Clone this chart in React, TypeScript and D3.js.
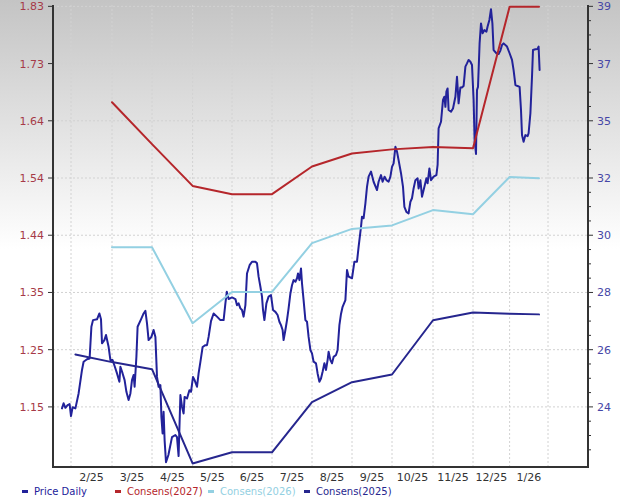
import React from 'react';
import * as d3 from 'd3';

// ---------- data ----------
// x unit: trading-session index from the left edge of the plot
const monthGrid = [9, 29.5, 49.5, 69.8, 89.5, 109.5, 129.5, 149.5, 169.5, 190, 210, 228.3, 247.5];
const monthLabels = ['2/25', '3/25', '4/25', '5/25', '6/25', '7/25', '8/25', '9/25', '10/25', '11/25', '12/25', '1/26'];

const leftTickLabels = ['1.15', '1.25', '1.35', '1.44', '1.54', '1.64', '1.73', '1.83'];
const rightTickLabels = ['24', '26', '28', '30', '32', '35', '37', '39'];
const leftTickFirst = 1.15;
const leftTickStep = 0.0971;

const price: [number, number][] = [
  [4.5, 23.91], [5.3, 24.1], [6.2, 23.93], [7.3, 24.03], [8.3, 24.07], [9, 23.62], [9.8, 23.95], [11.2, 23.91],
  [12.8, 24.47], [14.5, 25.35], [15.3, 25.66], [17, 25.75], [18.3, 25.78], [19.2, 26.97], [20, 27.22], [22, 27.25],
  [23.2, 27.47], [24, 27.25], [24.5, 26.35], [25.7, 26.47], [26.5, 26.66], [27.8, 26.22], [28.7, 25.72], [29.8, 25.72],
  [30.8, 25.5], [32, 25.22], [33.2, 24.91], [33.7, 25.47], [34.8, 25.22], [35.8, 24.97], [36.7, 24.53], [37.8, 24.22],
  [38.7, 24.47], [39.5, 24.97], [40.3, 25.16], [40.8, 24.72], [41.7, 25.84], [42.3, 26.97], [44, 27.25], [45.3, 27.47],
  [46.2, 27.57], [47, 27.1], [47.8, 26.47], [49.2, 26.59], [50.3, 26.85], [51.2, 26.59], [52, 25.09], [52.8, 24.72],
  [53.7, 24.78], [54.2, 23.59], [54.8, 22.97], [55.3, 23.78], [55.8, 22.72], [56.5, 21.89], [57.7, 22.16], [59.5, 22.83],
  [61.2, 22.91], [62, 22.83], [62.8, 22.12], [63.7, 24.41], [64.5, 23.97], [65.3, 23.72], [65.8, 24.34], [67, 24.28],
  [68.2, 24.59], [69, 24.53], [70, 25.09], [70.8, 24.97], [72, 24.72], [72.8, 25.22], [73.7, 25.65], [74.8, 26.21],
  [76.2, 26.28], [77, 26.28], [77.8, 26.59], [79, 27.18], [80.3, 27.47], [82, 27.35], [83.7, 27.22], [85.3, 27.22],
  [86.2, 27.85], [86.9, 28.28], [87.8, 28.01], [89.5, 28.07], [91.2, 28.01], [92, 27.78], [92.8, 27.85], [93.7, 27.66],
  [94.5, 27.6], [95.3, 27.35], [96.2, 27.78], [97, 28.97], [98.3, 29.28], [99.5, 29.41], [101.2, 29.41], [102, 29.35],
  [102.8, 28.85], [103.7, 28.47], [104.5, 28.1], [105, 27.6], [105.7, 27.22], [106.7, 27.85], [107.8, 28.1], [109, 28.16],
  [110, 27.6], [111.2, 27.53], [112.3, 27.41], [113.2, 27.16], [114, 27.03], [114.8, 26.85], [115.3, 26.47], [116.2, 26.85],
  [117, 27.22], [117.8, 27.66], [118.7, 28.22], [119.5, 28.53], [120.3, 28.72], [121.2, 28.66], [122, 28.79], [122.5, 28.97],
  [123.2, 28.72], [124, 29.16], [124.5, 28.6], [125.3, 27.97], [126.2, 27.22], [127, 27.16], [127.8, 26.59], [128.7, 26.1],
  [129.5, 25.97], [130.3, 25.66], [131.5, 25.6], [132.3, 25.22], [133.2, 24.91], [134, 25.03], [134.8, 25.28], [135.7, 25.6],
  [136.5, 25.35], [137.3, 25.72], [137.8, 26.03], [138.7, 25.72], [139.5, 25.6], [140.3, 25.84], [141.5, 25.91], [142.3, 26.1],
  [143.2, 27.03], [144, 27.45], [144.8, 27.72], [146.2, 27.97], [147, 29.1], [147.8, 28.85], [149.5, 28.79], [150.7, 29.41],
  [152, 29.41], [152.8, 29.97], [154, 30.72], [154.5, 31.1], [155.3, 31.04], [156.2, 31.6], [157, 32.22], [157.8, 32.6],
  [159, 32.79], [160.3, 32.41], [162, 32.1], [162.8, 32.41], [164, 32.66], [164.8, 32.41], [165.8, 32.6], [166.7, 32.47],
  [167.8, 32.41], [168.7, 32.6], [169.5, 32.97], [170.3, 33.1], [171.2, 33.72], [172, 33.54], [172.8, 33.22], [174, 32.73],
  [175, 32.22], [175.7, 31.47], [176.7, 31.28], [177.8, 31.22], [178.7, 31.66], [179.5, 31.79], [180.3, 32.16], [181.2, 32.47],
  [182.3, 32.54], [182.8, 32.16], [183.7, 32.47], [184.5, 31.85], [185.7, 32.22], [186.7, 32.54], [187.3, 32.35], [188.2, 32.91],
  [189, 32.47], [190.3, 32.6], [191.7, 32.66], [192.3, 33.04], [192.8, 34.41], [194, 34.66], [195, 35.48], [195.7, 35.6],
  [196.2, 35.22], [196.7, 35.79], [197.3, 35.91], [197.8, 35.1], [199, 35.04], [200, 35.16], [201.2, 35.6], [202, 36.35],
  [202.8, 35.35], [203.7, 35.95], [204.5, 35.95], [205.3, 36.0], [206.2, 36.73], [207, 36.85], [207.8, 36.98], [208.7, 36.91],
  [209.5, 36.79], [210.3, 35.48], [210.8, 33.97], [211.5, 33.45], [212, 35.85], [212.5, 35.97], [213.3, 37.6], [214, 38.35],
  [214.8, 37.98], [215.7, 38.1], [216.7, 38.04], [217.3, 38.23], [218.2, 38.48], [219, 38.88], [219.7, 38.35], [220.3, 37.35],
  [221.7, 37.23], [222.8, 37.2], [223.7, 37.33], [224.5, 37.54], [225.3, 37.6], [227, 37.48], [228.3, 37.23], [229.5, 36.98],
  [230.3, 36.6], [231.2, 36.04], [232.3, 36.0], [233.3, 35.97], [234, 35.1], [234.5, 34.16], [235.3, 33.91], [236.2, 34.16],
  [237.3, 34.12], [237.8, 34.23], [238.7, 34.98], [239.5, 36.35], [240, 37.35], [241.2, 37.38], [242.3, 37.39], [242.8, 37.48],
  [243.3, 36.6],
];

const cons2027: [number, number][] = [
  [29.5, 1.667], [49.5, 1.596], [69.8, 1.525], [89.5, 1.511], [109.5, 1.511], [129.5, 1.558],
  [149.5, 1.58], [169.5, 1.587], [190, 1.591], [210, 1.589], [228.3, 1.829], [243, 1.829],
];
const cons2026: [number, number][] = [
  [29.5, 1.421], [49.5, 1.421], [69.8, 1.292], [89.5, 1.345], [109.5, 1.345], [129.5, 1.428],
  [149.5, 1.452], [169.5, 1.458], [190, 1.484], [210, 1.477], [228.3, 1.54], [243, 1.538],
];
const cons2025: [number, number][] = [
  [11.2, 1.239], [29.5, 1.226], [49.5, 1.214], [69.8, 1.054], [89.5, 1.073], [109.5, 1.073], [129.5, 1.158],
  [149.5, 1.192], [169.5, 1.205], [190, 1.297], [210, 1.31], [228.3, 1.308], [243, 1.307],
];

const legendNames = ['Price Daily', 'Consens(2027)', 'Consens(2026)', 'Consens(2025)'];
const legendColors = ['#22229a', '#b5262b', '#93d0e2', '#26268e'];

// ---------- layout ----------
const W = 620;
const H = 498;
const P = { left: 53, right: 588, top: 5, bottom: 467 };
const FONT = '"DejaVu Sans", Verdana, sans-serif';

export default function App() {
  const x = d3.scaleLinear().domain([0, 267.5]).range([P.left, P.right]);
  const yL = d3.scaleLinear().domain([1.048, 1.832]).range([P.bottom, P.top]);
  const yR = d3.scaleLinear().domain([21.71, 39.04]).range([P.bottom, P.top]);

  const leftTicks = leftTickLabels.map((_, i) => leftTickFirst + i * leftTickStep);
  const tickY = leftTicks.map((v) => yL(v));
  const rightTicks = tickY.map((py) => yR.invert(py));
  const step = tickY[0] - tickY[1];
  const minorY: number[] = [];
  for (let i = 0; i < tickY.length; i++) {
    for (let k = 1; k <= 3; k++) {
      const a = tickY[i] + (k * step) / 4;
      if (a < P.bottom - 1) minorY.push(a);
      const b = tickY[i] - (k * step) / 4;
      if (i === tickY.length - 1 && b > P.top) minorY.push(b);
    }
  }

  const lineR = d3.line<[number, number]>().x((d) => x(d[0])).y((d) => yR(d[1]));
  const lineL = d3.line<[number, number]>().x((d) => x(d[0])).y((d) => yL(d[1]));

  const labelX = monthLabels.map((_, i) => (x(monthGrid[i]) + x(monthGrid[i + 1])) / 2);

  const legendX = [22, 115, 208, 304];

  return (
    <svg
      width={W}
      height={H}
      style={{ position: 'fixed', left: 0, top: 0, fontFamily: FONT }}
    >
      <defs>
        <linearGradient id="bg" x1="0" y1="0" x2="0" y2="1">
          <stop offset="0" stopColor="#c4c4c4" />
          <stop offset="0.5" stopColor="#ffffff" />
          <stop offset="1" stopColor="#ffffff" />
        </linearGradient>
        <clipPath id="plot">
          <rect x={P.left} y={0} width={P.right - P.left} height={P.bottom} />
        </clipPath>
      </defs>
      <rect x={0} y={0} width={W} height={H} fill="url(#bg)" />

      {/* grid */}
      <g stroke="#d2d2d2" strokeWidth={1} strokeDasharray="2,2">
        {tickY.map((py, i) => (
          <line key={'h' + i} x1={P.left} x2={P.right} y1={py} y2={py} />
        ))}
        {monthGrid.map((g, i) => (
          <line key={'v' + i} x1={x(g)} x2={x(g)} y1={P.top} y2={P.bottom} />
        ))}
      </g>

      {/* series */}
      <g clipPath="url(#plot)" fill="none" strokeLinejoin="round" strokeLinecap="round">
        <path d={lineR(price) || ''} stroke={legendColors[0]} strokeWidth={2} />
        <path d={lineL(cons2027) || ''} stroke={legendColors[1]} strokeWidth={2} />
        <path d={lineL(cons2026) || ''} stroke={legendColors[2]} strokeWidth={2} />
        <path d={lineL(cons2025) || ''} stroke={legendColors[3]} strokeWidth={2} />
      </g>

      {/* axes */}
      <g stroke="#333" strokeWidth={2} fill="none">
        <line x1={P.left} x2={P.left} y1={P.top} y2={P.bottom + 1} />
        <line x1={P.right} x2={P.right} y1={P.top} y2={P.bottom + 1} />
        <line x1={P.left - 1} x2={P.right + 1} y1={P.bottom} y2={P.bottom} />
      </g>
      <g stroke="#333" strokeWidth={1}>
        {tickY.map((py, i) => (
          <line key={'lt' + i} x1={P.left - 5} x2={P.left} y1={py} y2={py} />
        ))}
        {tickY.map((py, i) => (
          <line key={'rt' + i} x1={P.right} x2={P.right + 5} y1={py} y2={py} />
        ))}
        {minorY.map((py, i) => (
          <line key={'rm' + i} x1={P.right} x2={P.right + 3} y1={py} y2={py} />
        ))}
      </g>

      <g fontSize={11} fill="#a63a48" textAnchor="end">
        {leftTicks.map((v, i) => (
          <text key={'ll' + i} x={P.left - 9} y={yL(v)} dy="0.36em">
            {leftTickLabels[i]}
          </text>
        ))}
      </g>
      <g fontSize={11} fill="#4646a6" textAnchor="start">
        {rightTicks.map((v, i) => (
          <text key={'rl' + i} x={P.right + 9} y={yR(v)} dy="0.36em">
            {rightTickLabels[i]}
          </text>
        ))}
      </g>
      <g fontSize={11} fill="#333" textAnchor="middle">
        {monthLabels.map((m, i) => (
          <text key={'m' + i} x={labelX[i]} y={481}>
            {m}
          </text>
        ))}
      </g>

      {/* legend */}
      <g fontSize={10}>
        {legendNames.map((n, i) => (
          <g key={'lg' + i}>
            <rect x={legendX[i]} y={490} width={6} height={3} fill={legendColors[i]} />
            <text x={legendX[i] + 12} y={495} fill={legendColors[i]}>
              {n}
            </text>
          </g>
        ))}
      </g>
    </svg>
  );
}
